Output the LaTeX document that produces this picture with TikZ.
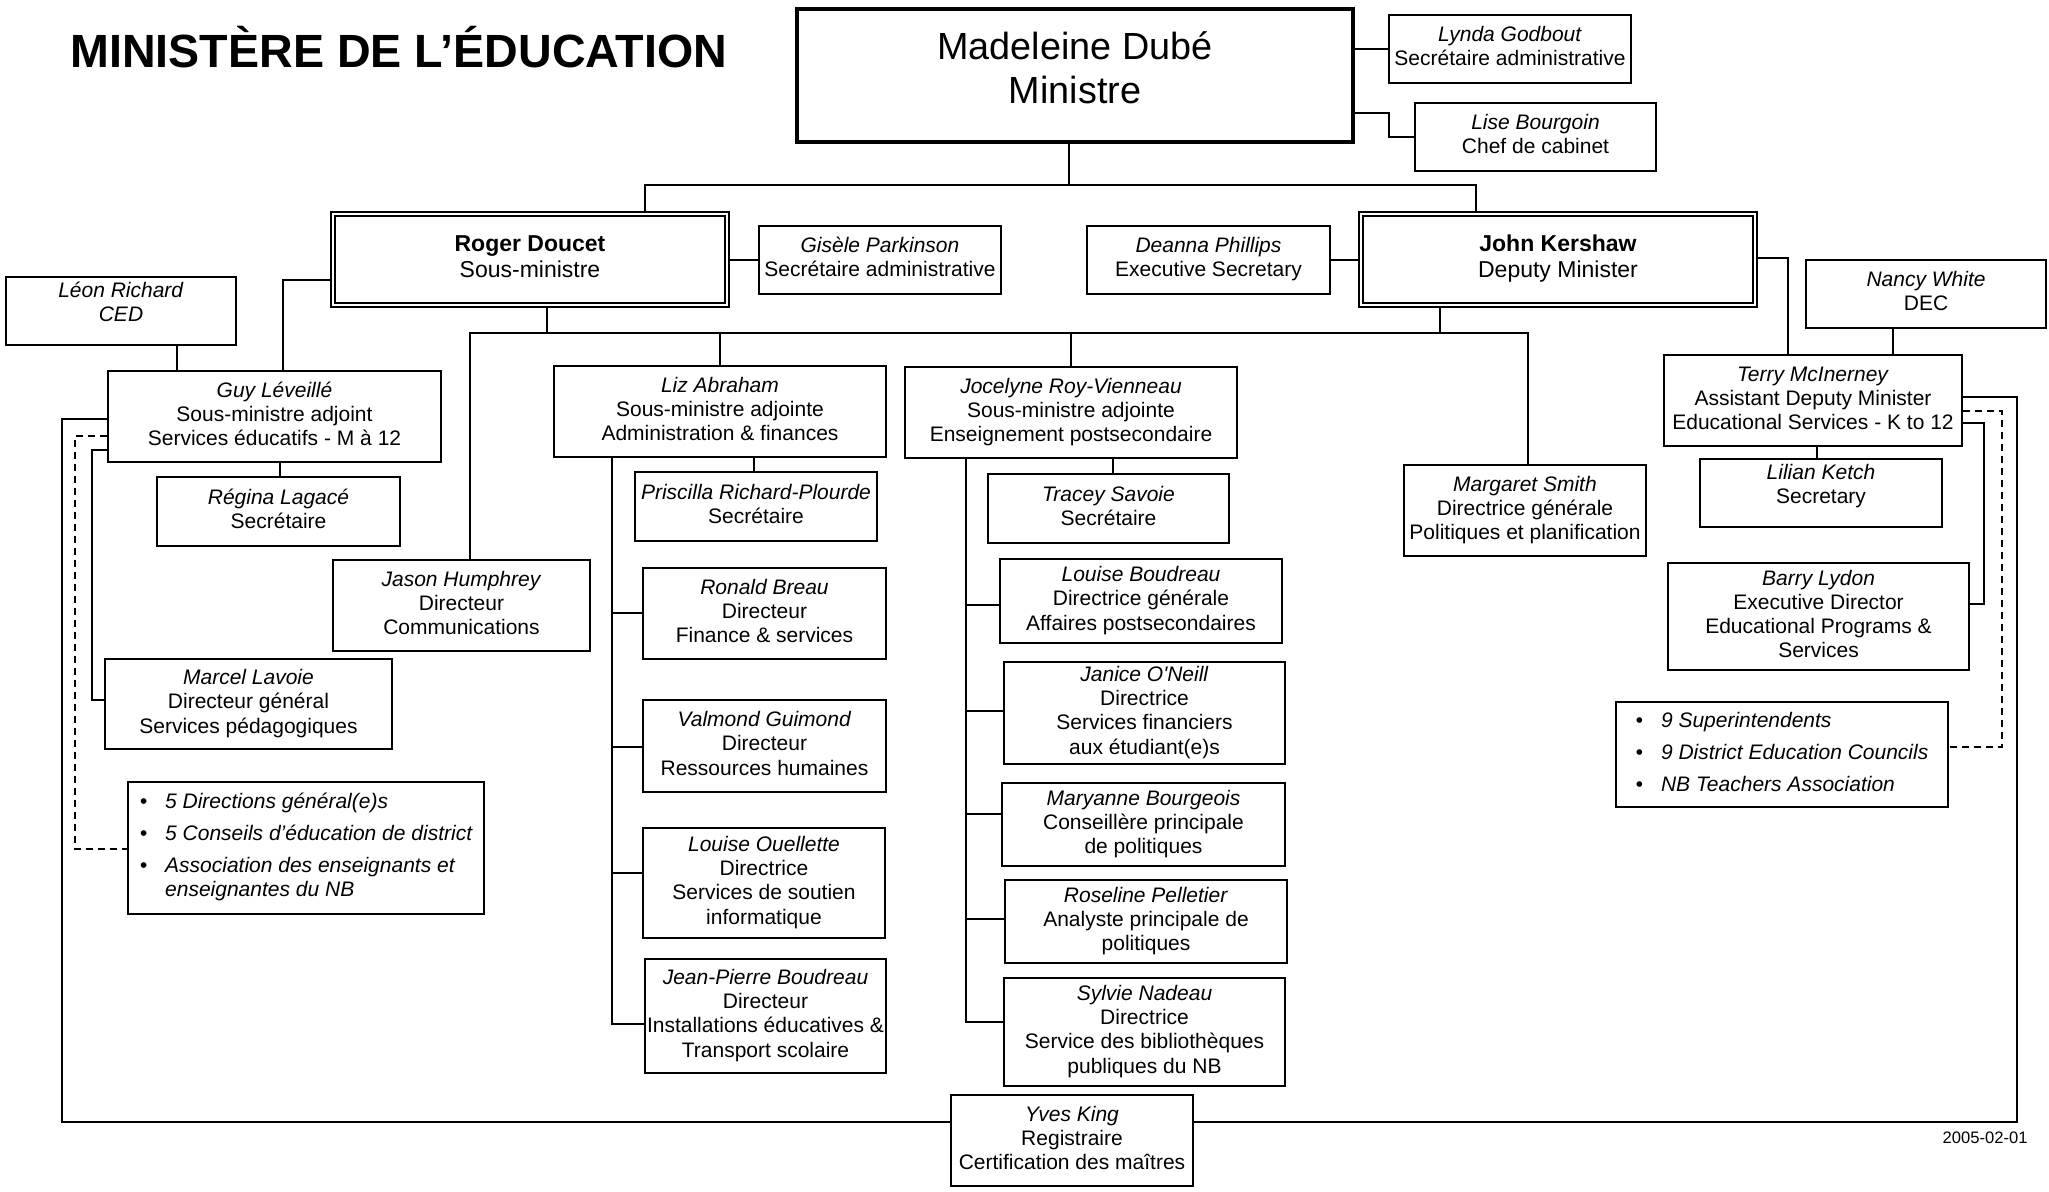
\documentclass[tikz,border=0pt]{standalone}
\usepackage{fontspec}
\setmainfont{Liberation Sans}

\newcommand{\lignes}[1]{\begin{tabular}{@{}c@{}}#1\end{tabular}}
\newcommand{\puces}[1]{\begin{tabular}{@{}l@{\hspace{9pt}}l@{}}#1\end{tabular}}

\begin{document}
\begin{tikzpicture}[x=0.5pt, y=-0.5pt,
  box/.style={draw, line width=0.7pt, inner sep=0pt, font=\fontsize{10.5}{12.1}\selectfont},
  dmbox/.style={box, line width=0.6pt, font=\fontsize{11.5}{13.2}\selectfont},
  minbox/.style={box, line width=2.4pt, font=\fontsize{18.9}{22}\selectfont},
  listbox/.style={box, font=\itshape\fontsize{10.5}{12.1}\selectfont},
  link/.style={line width=0.65pt},
  dashlink/.style={line width=0.65pt, dash pattern=on 3.5pt off 2.5pt}]

 \useasboundingbox (0,0) rectangle (2049,1191);

 %%%%%%%%%% Titre %%%%%%%%%%
 \node[anchor=base west, inner sep=0pt, font=\bfseries\fontsize{23.3}{27}\selectfont] (titre) at (70,67) {MINISTÈRE DE L’ÉDUCATION};
 \node[anchor=east, inner sep=0pt, font=\fontsize{8.3}{10}\selectfont] (date) at (2028,1138) {2005-02-01};

 %%%%%%%%%% Ministre %%%%%%%%%%
 \node[minbox, minimum width=278pt, minimum height=66.5pt] (madeleine) at (1075,75.5) {\raisebox{1.5pt}[\height][\depth]{\lignes{Madeleine Dubé\\Ministre}}};
 \node[box, minimum width=121pt, minimum height=34pt] (lynda) at (1510,49) {\lignes{\textit{Lynda Godbout}\\Secrétaire administrative}};
 \node[box, minimum width=120.5pt, minimum height=34pt] (lise) at (1535.5,137) {\lignes{\textit{Lise Bourgoin}\\Chef de cabinet}};

 %%%%%%%%%% Sous-ministres %%%%%%%%%%
 \node[dmbox, minimum width=199pt, minimum height=47.5pt] (roger) at (530,259.5) {\lignes{\textbf{Roger Doucet}\\Sous-ministre}};
 \node[dmbox, minimum width=199pt, minimum height=47.5pt] (john) at (1558,259.5) {\lignes{\textbf{John Kershaw}\\Deputy Minister}};
 \draw[line width=1pt] ([shift={(2.5pt,-2.5pt)}]roger.north west) rectangle ([shift={(-2.5pt,2.5pt)}]roger.south east);
 \draw[line width=1pt] ([shift={(2.5pt,-2.5pt)}]john.north west) rectangle ([shift={(-2.5pt,2.5pt)}]john.south east);
 \node[box, minimum width=121pt, minimum height=34pt] (gisele) at (880,260) {\lignes{\textit{Gisèle Parkinson}\\Secrétaire administrative}};
 \node[box, minimum width=121.5pt, minimum height=34pt] (deanna) at (1208.5,260) {\lignes{\textit{Deanna Phillips}\\Executive Secretary}};

 %%%%%%%%%% Cote gauche %%%%%%%%%%
 \node[box, minimum width=115pt, minimum height=34pt] (leon) at (121,311) {\raisebox{3.2pt}[\height][\depth]{\lignes{\textit{Léon Richard}\\\textit{CED}}}};
 \node[box, minimum width=166.5pt, minimum height=45.5pt] (guy) at (274.5,416.5) {\lignes{\textit{Guy Léveillé}\\Sous-ministre adjoint\\Services éducatifs - M à 12}};
 \node[box, minimum width=121.5pt, minimum height=34.5pt] (regina) at (278.5,511.5) {\lignes{\textit{Régina Lagacé}\\Secrétaire}};
 \node[box, minimum width=128.5pt, minimum height=45.5pt] (jason) at (461.5,605.5) {\lignes{\textit{Jason Humphrey}\\Directeur\\Communications}};
 \node[box, minimum width=143.5pt, minimum height=45pt] (marcel) at (248.5,704) {\lignes{\textit{Marcel Lavoie}\\Directeur général\\Services pédagogiques}};
 \node[listbox, minimum width=178pt, minimum height=66pt] (dirs) at (306,848) {\puces{
   \textbullet & 5 Directions général(e)s\\[3.9pt]
   \textbullet & 5 Conseils d’éducation de district\\[3.9pt]
   \textbullet & Association des enseignants et\\
               & enseignantes du NB}};

 %%%%%%%%%% Administration & finances %%%%%%%%%%
 \node[box, minimum width=166pt, minimum height=45.5pt] (liz) at (720,411.5) {\lignes{\textit{Liz Abraham}\\Sous-ministre adjointe\\Administration \& finances}};
 \node[box, minimum width=121pt, minimum height=34.5pt] (priscilla) at (756,506.5) {\lignes{\textit{Priscilla Richard-Plourde}\\Secrétaire}};
 \node[box, minimum width=121.5pt, minimum height=45.5pt] (ronald) at (764.5,613.5) {\lignes{\textit{Ronald Breau}\\Directeur\\Finance \& services}};
 \node[box, minimum width=121.5pt, minimum height=46pt] (valmond) at (764.5,746) {\lignes{\textit{Valmond Guimond}\\Directeur\\Ressources humaines}};
 \node[box, minimum width=121pt, minimum height=55pt] (ouellette) at (764,883) {\lignes{\textit{Louise Ouellette}\\Directrice\\Services de soutien\\informatique}};
 \node[box, minimum width=120.5pt, minimum height=57pt] (jpb) at (765.5,1016) {\lignes{\textit{Jean-Pierre Boudreau}\\Directeur\\Installations éducatives \&\\Transport scolaire}};

 %%%%%%%%%% Enseignement postsecondaire %%%%%%%%%%
 \node[box, minimum width=166pt, minimum height=45.5pt] (jocelyne) at (1071,412.5) {\lignes{\textit{Jocelyne Roy-Vienneau}\\Sous-ministre adjointe\\Enseignement postsecondaire}};
 \node[box, minimum width=120.5pt, minimum height=34.5pt] (tracey) at (1108.5,508.5) {\lignes{\textit{Tracey Savoie}\\Secrétaire}};
 \node[box, minimum width=141pt, minimum height=42pt] (lboudreau) at (1141,601) {\lignes{\textit{Louise Boudreau}\\Directrice générale\\Affaires postsecondaires}};
 \node[box, minimum width=140.5pt, minimum height=51pt] (janice) at (1144.5,713) {\lignes{\textit{Janice O\textquotesingle Neill}\\Directrice\\Services financiers\\aux étudiant(e)s}};
 \node[box, minimum width=141.5pt, minimum height=41.5pt] (maryanne) at (1143.5,824.5) {\lignes{\textit{Maryanne Bourgeois}\\Conseillère principale\\de politiques}};
 \node[box, minimum width=141pt, minimum height=41.5pt] (roseline) at (1146,921.5) {\lignes{\textit{Roseline Pelletier}\\Analyste principale de\\politiques}};
 \node[box, minimum width=140.5pt, minimum height=54pt] (sylvie) at (1144.5,1032) {\lignes{\textit{Sylvie Nadeau}\\Directrice\\Service des bibliothèques\\publiques du NB}};
 \node[box, minimum width=121pt, minimum height=45.5pt] (yves) at (1072,1140.5) {\lignes{\textit{Yves King}\\Registraire\\Certification des maîtres}};

 %%%%%%%%%% Cote droit %%%%%%%%%%
 \node[box, minimum width=121pt, minimum height=45.5pt] (margaret) at (1525,510.5) {\lignes{\textit{Margaret Smith}\\Directrice générale\\Politiques et planification}};
 \node[box, minimum width=120pt, minimum height=34pt] (nancy) at (1926,294) {\lignes{\textit{Nancy White}\\DEC}};
 \node[box, minimum width=149pt, minimum height=45.5pt] (terry) at (1813,400.5) {\lignes{\textit{Terry McInerney}\\Assistant Deputy Minister\\Educational Services - K to 12}};
 \node[box, minimum width=121pt, minimum height=34pt] (lilian) at (1821,493) {\raisebox{3.3pt}[\height][\depth]{\lignes{\textit{Lilian Ketch}\\Secretary}}};
 \node[box, minimum width=150.5pt, minimum height=53.5pt] (barry) at (1818.5,616.5) {\lignes{\textit{Barry Lydon}\\Executive Director\\Educational Programs \&\\Services}};
 \node[listbox, minimum width=166pt, minimum height=52.5pt] (nine) at (1782,754.5) {\puces{
   \textbullet & 9 Superintendents\\[3.9pt]
   \textbullet & 9 District Education Councils\\[3.9pt]
   \textbullet & NB Teachers Association}};

 %%%%%%%%%% Liens ministre %%%%%%%%%%
 \draw[link] (madeleine.east |- lynda.west) -- (lynda.west);
 \draw[link] (madeleine.east |- 0,113) -- (1389,113) |- (lise.west);
 \draw[link] (madeleine.south -| 1069,0) -- (1069,185);
 \draw[link] (roger.north -| 645,0) -- (645,185) -| (john.north -| 1476,0);

 %%%%%%%%%% Liens sous-ministres %%%%%%%%%%
 \draw[link] (roger.east |- gisele.west) -- (gisele.west);
 \draw[link] (deanna.east) -- (deanna.east -| john.west);
 \draw[link] (roger.west |- 0,280) -- (283,280) -- (guy.north -| 283,0);
 \draw[link] (leon.south -| 177,0) -- (guy.north -| 177,0);
 \draw[link] (guy.south -| 280,0) -- (regina.north -| 280,0);
 \draw[link] (guy.west |- 0,419) -- (62,419) |- (yves.west |- 0,1122);
 \draw[link] (guy.west |- 0,450) -- (92,450) |- (marcel.west |- 0,700);
 \draw[dashlink] (guy.west |- 0,436) -- (75,436) |- (dirs.west |- 0,849);
 \draw[link] (roger.south -| 547,0) -- (547,333);
 \draw[link] (john.south -| 1440,0) -- (1440,333);
 \draw[link] (jason.north -| 470,0) -- (470,333) -| (margaret.north -| 1528,0);
 \draw[link] (liz.north |- 0,333) -- (liz.north);
 \draw[link] (jocelyne.north |- 0,333) -- (jocelyne.north);

 %%%%%%%%%% Liens Liz Abraham %%%%%%%%%%
 \draw[link] (liz.south -| 754,0) -- (priscilla.north -| 754,0);
 \draw[link] (liz.south -| 612,0) |- (jpb.west |- 0,1024);
 \draw[link] (612,613) -- (ronald.west |- 0,613);
 \draw[link] (612,747) -- (valmond.west |- 0,747);
 \draw[link] (612,873) -- (ouellette.west |- 0,873);

 %%%%%%%%%% Liens Jocelyne Roy-Vienneau %%%%%%%%%%
 \draw[link] (jocelyne.south -| 1113,0) -- (tracey.north -| 1113,0);
 \draw[link] (jocelyne.south -| 966,0) |- (sylvie.west |- 0,1022);
 \draw[link] (966,605) -- (lboudreau.west |- 0,605);
 \draw[link] (966,711) -- (janice.west |- 0,711);
 \draw[link] (966,814) -- (maryanne.west |- 0,814);
 \draw[link] (966,919) -- (roseline.west |- 0,919);

 %%%%%%%%%% Liens Deputy Minister %%%%%%%%%%
 \draw[link] (john.east |- 0,258) -- (1788,258) -- (terry.north -| 1788,0);
 \draw[link] (nancy.south -| 1893,0) -- (terry.north -| 1893,0);
 \draw[link] (terry.south -| 1817,0) -- (lilian.north -| 1817,0);
 \draw[link] (terry.east |- 0,423) -- (1984,423) |- (barry.east |- 0,604);
 \draw[dashlink] (terry.east |- 0,411) -- (2002,411) |- (nine.east |- 0,747);
 \draw[link] (terry.east |- 0,397) -- (2017,397) |- (yves.east |- 0,1122);

\end{tikzpicture}
\end{document}
